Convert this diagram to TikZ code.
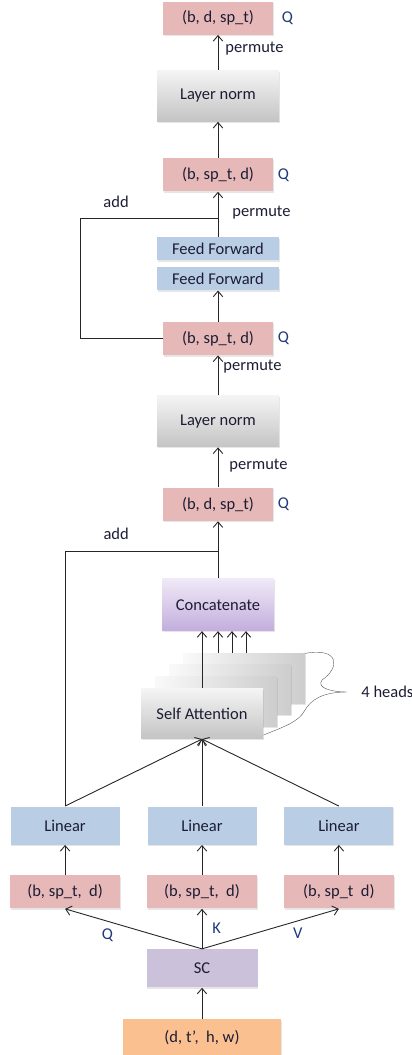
\documentclass[tikz,border=0pt]{standalone}
\usepackage{fontspec}
\setmainfont{Carlito}
\usetikzlibrary{positioning,arrows.meta,shadows,calc,backgrounds}

\definecolor{pinkfill}{HTML}{E6B9B8}
\definecolor{bluefill}{HTML}{B9CDE5}
\definecolor{graytop}{HTML}{F4F4F4}
\definecolor{graybot}{HTML}{C4C4C4}
\definecolor{lilactop}{HTML}{F0E9F7}
\definecolor{lilacbot}{HTML}{C3AEDD}
\definecolor{scfill}{HTML}{CCC1DA}
\definecolor{infill}{HTML}{FAC090}
\definecolor{inktext}{HTML}{1C1C34}
\definecolor{labeltext}{HTML}{1F3A78}

\begin{document}
\begin{tikzpicture}[x=1pt,y=-1pt,>={Straight Barb[length=5.5pt,width=9.5pt]},line width=0.9pt,
    font=\fontsize{16.5}{19}\selectfont,text=inktext,draw=black!85]
  \tikzstyle{plainbox}=[inner sep=0pt,minimum width=110pt,minimum height=33pt,
    drop shadow={shadow xshift=0.8pt,shadow yshift=-1.5pt,opacity=0.2}]
  \tikzstyle{tensorbox}=[plainbox,fill=pinkfill]
  \tikzstyle{ffbox}=[plainbox,fill=bluefill,minimum width=122pt,minimum height=23pt]
  \tikzstyle{linbox}=[plainbox,fill=bluefill,minimum width=109pt,minimum height=38pt]
  \tikzstyle{normbox}=[plainbox,top color=graytop,bottom color=graybot,minimum width=122pt,minimum height=51pt]
  \tikzstyle{headbox}=[normbox,minimum height=50pt]
  \tikzstyle{backhead}=[headbox,left color=graytop!50!white,right color=graybot!85!white]
  \tikzstyle{concatbox}=[plainbox,top color=lilactop,bottom color=lilacbot,minimum width=112pt,minimum height=52pt]
  \tikzstyle{qlabel}=[inner sep=0pt,text=labeltext]
  \tikzstyle{edgelabel}=[inner sep=0pt]

  \useasboundingbox (0,0) rectangle (412,1055);

  % Encoder column
  \node[tensorbox] (out) at (218,18) {(b, d, sp\_t)};
  \node[normbox, below=35pt of out] (norm2) {Layer norm};
  \node[tensorbox, below=36pt of norm2] (ffout) {(b, sp\_t, d)};
  \node[ffbox, below=45pt of ffout] (ff1) {Feed Forward};
  \node[ffbox, below=6pt of ff1] (ff2) {Feed Forward};
  \node[tensorbox, below=31pt of ff2] (ffin) {(b, sp\_t, d)};
  \node[normbox, below=40pt of ffin] (norm1) {Layer norm};
  \node[tensorbox, below=40pt of norm1] (attout) {(b, d, sp\_t)};
  \node[concatbox, below=57pt of attout] (concat) {Concatenate};
  \node[headbox, below=57pt of concat, xshift=-16pt] (sa) {Self Attention};

  % Heads behind
  \begin{scope}[on background layer]
    \node[backhead] (h3) at ($(sa)+(42,-35)$) {};
    \node[backhead] (h2) at ($(sa)+(28,-24)$) {};
    \node[backhead] (h1) at ($(sa)+(14,-12)$) {};
  \end{scope}

  % Inputs
  \node[linbox, below=67pt of sa] (lin2) {Linear};
  \node[linbox, left=27pt of lin2] (lin1) {Linear};
  \node[linbox, right=27pt of lin2] (lin3) {Linear};
  \node[tensorbox, below=30pt of lin1] (q) {(b, sp\_t,~ d)};
  \node[tensorbox, below=30pt of lin2] (k) {(b, sp\_t,~ d)};
  \node[tensorbox, below=30pt of lin3] (v) {(b, sp\_t~ d)};
  \node[plainbox, fill=scfill, minimum width=111pt, minimum height=38pt, below=40pt of k] (sc) {SC};
  \node[plainbox, fill=infill, minimum width=158pt, minimum height=37pt, below=31pt of sc] (inp) {(d, t',~ h, w)};

  % Q labels
  \node[qlabel, right=8pt of out] {Q};
  \node[qlabel, right=4pt of ffout] {Q};
  \node[qlabel, right=4pt of ffin] {Q};
  \node[qlabel, right=4pt of attout] {Q};

  % Transitions
  \path[->]
    (norm2) edge node[edgelabel, pos=0.61, right=7pt]{permute} (out)
    (ffout) edge (norm2)
    (ff1) edge node[edgelabel, pos=0.54, right=14pt]{permute} (ffout)
    (ffin) edge (ff2)
    (norm1) edge node[edgelabel, pos=0.71, right=5pt]{permute} (ffin)
    (attout) edge node[edgelabel, pos=0.54, right=11pt]{permute} (norm1)
    (concat) edge (attout)
    (sa.north) edge (sa.north |- concat.south)
    (lin1.north) edge (sa.south)
    (lin2.north) edge (sa.south)
    (lin3.north) edge (sa.south)
    (q) edge (lin1)
    (k) edge (lin2)
    (v) edge (lin3)
    (sc.north) edge node[qlabel, pos=0.69, below=7pt]{Q} (q.south)
    (sc.north) edge node[qlabel, pos=0.52, right=10pt]{K} (k.south)
    (sc.north) edge node[qlabel, pos=0.7, below=7pt]{V} (v.south)
    (inp) edge (sc);

  \foreach \dx in {16,30,44}
    \draw[->] ([xshift=\dx pt]sa.north |- h3.north) -- ([xshift=\dx pt]sa.north |- concat.south);

  % Residual adds
  \coordinate (add1) at ($(ff1.north)!0.4!(ffout.south)$);
  \coordinate (add1l) at ([xshift=-138pt]add1);
  \draw (ffin.west) -| (add1l) -- (add1);
  \node[edgelabel, anchor=south west] at ([xshift=23pt,yshift=11pt]add1l) {add};

  \coordinate (add2) at ($(concat.north)!0.47!(attout.south)$);
  \draw (lin1.north) |- (add2);
  \node[edgelabel, anchor=south west] at ([xshift=38pt,yshift=11pt]lin1.north |- add2) {add};

  % Heads brace
  \coordinate (tip) at (347,692);
  \draw[thin, black!65] (h3.north east) .. controls (340,647) and (340,668) .. (322,680)
    .. controls (316,688) and (332,692) .. (tip)
    .. controls (322,692) and (311,700) .. (305,710)
    .. controls (299,722) and (283,727) .. ([yshift=4pt]sa.south east);
  \node[edgelabel, anchor=west] (heads) at ([xshift=14pt]tip) {4 heads};
\end{tikzpicture}
\end{document}
